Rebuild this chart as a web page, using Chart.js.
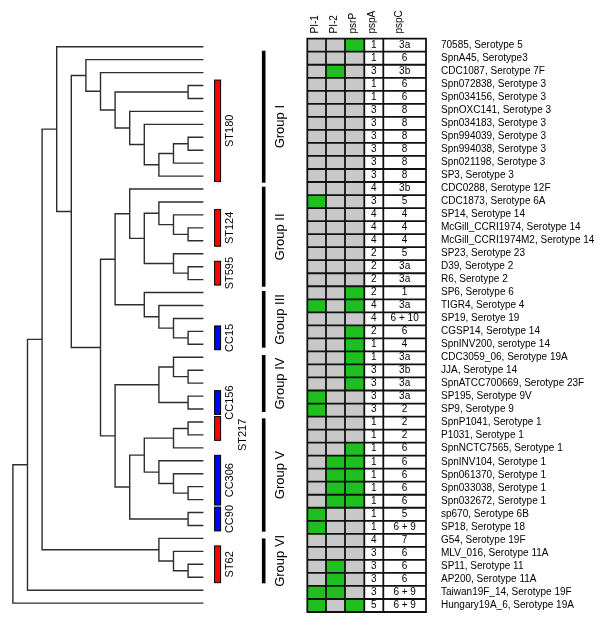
<!DOCTYPE html>
<html><head><meta charset="utf-8">
<script src="https://cdn.jsdelivr.net/npm/chart.js@4.4.1/dist/chart.umd.min.js"></script>
<style>html,body{margin:0;padding:0;background:#fff}#wrap{width:600px;height:626px;position:relative}</style>
</head><body><div id="wrap"><canvas id="c"></canvas></div>
<script>
// ---------------- DATA ----------------
const strains = ["70585, Serotype 5","SpnA45, Serotype3","CDC1087, Serotype 7F","Spn072838, Serotype 3","Spn034156, Serotype 3","SpnOXC141, Serotype 3","Spn034183, Serotype 3","Spn994039, Serotype 3","Spn994038, Serotype 3","Spn021198, Serotype 3","SP3, Serotype 3","CDC0288, Serotype 12F","CDC1873, Serotype 6A","SP14, Serotype 14","McGill_CCRI1974, Serotype 14","McGill_CCRI1974M2, Serotype 14","SP23, Serotype 23","D39, Serotype 2","R6, Serotype 2","SP6, Serotype 6","TIGR4, Serotype 4","SP19, Serotye 19","CGSP14, Serotype 14","SpnINV200, serotype 14","CDC3059_06, Serotype 19A","JJA, Serotype 14","SpnATCC700669, Serotype 23F","SP195, Serotype 9V","SP9, Serotype 9","SpnP1041, Serotype 1","P1031, Serotype 1","SpnNCTC7565, Serotype 1","SpnINV104, Serotype 1","Spn061370, Serotype 1","Spn033038, Serotype 1","Spn032672, Serotype 1","sp670, Serotype 6B","SP18, Serotype 18","G54, Serotype 19F","MLV_016, Serotype 11A","SP11, Serotype 11","AP200, Serotype 11A","Taiwan19F_14, Serotype 19F","Hungary19A_6, Serotype 19A"];
const columnLabels = ["PI-1","PI-2","psrP","pspA","pspC"];
const pi1  = [0,0,0,0,0,0,0,0,0,0, 0,0,1,0,0,0,0,0,0,0, 1,0,0,0,0,0,0,1,1,0, 0,0,0,0,0,0,1,1,0,0, 0,0,1,1];
const pi2  = [0,0,1,0,0,0,0,0,0,0, 0,0,0,0,0,0,0,0,0,0, 0,0,0,0,0,0,0,0,0,0, 0,0,1,1,1,1,0,0,0,0, 1,1,1,0];
const psrP = [1,0,0,0,0,0,0,0,0,0, 0,0,0,0,0,0,0,0,0,1, 1,0,1,1,1,1,1,0,0,0, 0,1,1,1,1,1,0,0,0,0, 0,0,0,1];
const pspA = [1,1,3,1,1,3,3,3,3,3, 3,4,3,4,4,4,2,2,2,2, 4,4,2,1,1,3,3,3,3,1, 1,1,1,1,1,1,1,1,4,3, 3,3,3,5];
const pspC = ["3a","6","3b","6","6","8","8","8","8","8", "8","3b","5","4","4","4","5","3a","3a","1", "3a","6 + 10","6","4","3a","3b","3a","3a","2","2", "2","6","6","6","6","6","5","6 + 9","7","6", "6","6","6 + 9","6 + 9"];
// dendrogram: [level, left, right]; integers are leaf (row) indices
const tree = [13,
  [12,
    [11,
      [10, 0,
        [9,
          [8, 1, [7, 2, [6, [1,3,4], [5, 5, [4, 6, [3, [2, [1,7,8], 9], 10]]]]]],
          [7,
            [6, [5, 11, [4, [3, 12, [2, 13, [1,14,15]]], [2, 16, [1,17,18]]]], [4, 19, [3, 20, [2, 21, [1,22,23]]]]],
            [6, [3, [2, 24, [1,25,26]], [1,27,28]], [5, [4, [2, [1,29,30], 31], [3, 32, [2, 33, [1,34,35]]]], [1,36,37]]]
          ]
        ]
      ],
      [3, 38, [2, 39, [1,40,41]]]
    ],
    42],
  43];
// clonal complexes: [label, first row, last row, kind]
const clonalNames = ["ST180","ST124","ST595","CC15","CC156","ST217","CC306","CC90","ST62"];
const clonalFirst = [3,13,17,22,27,29,32,36,39];
const clonalLast  = [10,15,18,23,28,30,35,37,41];
const clonalKind  = ["ST","ST","ST","CC","CC","ST","CC","CC","ST"];
// groups: extent in row units, label anchor in row units
const groupNames = ["Group I","Group II","Group III","Group IV","Group V","Group VI"];
const groupFrom  = [0.31,10.82,18.88,23.83,28.72,38.0];
const groupTo    = [10.51,18.55,23.26,28.23,37.48,41.47];
const groupLabelAt = [6.18,14.7,21.07,26.03,33.1,39.73];

// ---------------- LAYOUT ----------------
const W = 600, H = 626;
const tipX = 202.7, levelStep = 14.6;
const treeY0 = 46.7, treeStep = 12.94;
const tabY0 = 45.2, tabStep = 13.03;
const colEdges = [307.3, 326, 345, 364.3, 383.3, 426];
const headerX = [315.6, 334.2, 353.3, 372.2, 399.6];
const nameX = 441;
const FONT = '"Liberation Sans", Arial, Helvetica, sans-serif';
const GREEN = '#1fbf1f', GREY = '#c8c8c8';

// build dendrogram polylines (level, row) with gaps
const treePts = [];
function walk(n) {
  if (typeof n === 'number') return {lv: 0, y: n};
  const [lv, a, b] = n;
  const A = walk(a), B = walk(b);
  treePts.push({x: A.lv, y: A.y}, {x: lv, y: A.y}, {x: lv, y: B.y}, {x: B.lv, y: B.y}, {x: null, y: null});
  return {lv, y: (A.y + B.y) / 2};
}
walk(tree);

const overlay = {
  id: 'overlay',
  afterDraw(chart) {
    const ctx = chart.ctx;
    const X = chart.scales.x, Y = chart.scales.y, YT = chart.scales.yt;
    const px = v => X.getPixelForValue(v);
    ctx.save();
    // table cells
    const flags = [pi1, pi2, psrP];
    const x0 = px(colEdges[0]), x5 = px(colEdges[5]);
    for (let i = 0; i < strains.length; i++) {
      const t = Y.getPixelForValue(i - 0.5), b = Y.getPixelForValue(i + 0.5);
      for (let c = 0; c < 5; c++) {
        ctx.fillStyle = c < 3 ? (flags[c][i] ? GREEN : GREY) : '#ffffff';
        ctx.fillRect(px(colEdges[c]), t, px(colEdges[c + 1]) - px(colEdges[c]), b - t);
      }
    }
    ctx.strokeStyle = '#111';
    ctx.lineWidth = 1.8;
    ctx.beginPath();
    for (let i = 0; i <= strains.length; i++) {
      const yy = Y.getPixelForValue(i - 0.5);
      ctx.moveTo(x0 - 0.9, yy); ctx.lineTo(x5 + 0.9, yy);
    }
    const tTop = Y.getPixelForValue(-0.5), tBot = Y.getPixelForValue(strains.length - 0.5);
    for (const e of colEdges) { ctx.moveTo(px(e), tTop); ctx.lineTo(px(e), tBot); }
    ctx.stroke();
    // table text
    ctx.fillStyle = '#000';
    ctx.font = '10px ' + FONT;
    ctx.textBaseline = 'middle';
    for (let i = 0; i < strains.length; i++) {
      const yc = Y.getPixelForValue(i) - 0.4;
      ctx.textAlign = 'center';
      ctx.fillText(String(pspA[i]), (px(colEdges[3]) + px(colEdges[4])) / 2, yc);
      ctx.fillText(pspC[i], (px(colEdges[4]) + px(colEdges[5])) / 2, yc);
      ctx.textAlign = 'left';
      ctx.fillText(strains[i], px(nameX), yc);
    }
    // headers
    for (let c = 0; c < 5; c++) {
      ctx.save();
      ctx.translate(px(headerX[c]), 33.5);
      ctx.rotate(-Math.PI / 2);
      ctx.textAlign = 'left'; ctx.textBaseline = 'middle';
      ctx.fillText(columnLabels[c], 0, 0);
      ctx.restore();
    }
    // clonal bars
    const barL = px(214.6), barR = px(220.6);
    let prevEnd = -1e9;
    ctx.font = '11px ' + FONT;
    for (let k = 0; k < clonalNames.length; k++) {
      const t = YT.getPixelForValue(clonalFirst[k] - 0.42), b = YT.getPixelForValue(clonalLast[k] + 0.42);
      ctx.fillStyle = clonalKind[k] === 'ST' ? '#ff0000' : '#0000ff';
      ctx.fillRect(barL, t, barR - barL, b - t);
      ctx.strokeStyle = '#000'; ctx.lineWidth = 1;
      ctx.strokeRect(barL, t, barR - barL, b - t);
      const w = ctx.measureText(clonalNames[k]).width;
      let cy = (t + b) / 2, cx = px(230.2);
      if (cy - w / 2 < prevEnd + 2) { cx = px(243.2); cy = Math.max(cy, prevEnd + 2 + w / 2 - 3); }
      else prevEnd = cy + w / 2;
      ctx.save();
      ctx.translate(cx, cy); ctx.rotate(-Math.PI / 2);
      ctx.fillStyle = '#000'; ctx.textAlign = 'center'; ctx.textBaseline = 'middle';
      ctx.fillText(clonalNames[k], 0, 0);
      ctx.restore();
    }
    // group bars
    ctx.strokeStyle = '#000'; ctx.lineWidth = 3.6; ctx.lineCap = 'butt';
    ctx.font = '13px ' + FONT;
    for (let g = 0; g < groupNames.length; g++) {
      ctx.beginPath();
      ctx.moveTo(px(263.7), YT.getPixelForValue(groupFrom[g]));
      ctx.lineTo(px(263.7), YT.getPixelForValue(groupTo[g]));
      ctx.stroke();
      ctx.save();
      ctx.translate(px(280), YT.getPixelForValue(groupLabelAt[g]));
      ctx.rotate(-Math.PI / 2);
      ctx.fillStyle = '#000'; ctx.textAlign = 'center'; ctx.textBaseline = 'middle';
      ctx.fillText(groupNames[g], 0, 0);
      ctx.restore();
    }
    ctx.restore();
  }
};

const yMin = -tabY0 / tabStep, ytMin = -treeY0 / treeStep;
new Chart(document.getElementById('c'), {
  type: 'line',
  data: {
    datasets: [{
      data: treePts, xAxisID: 'xt', yAxisID: 'yt',
      borderColor: '#2e2e2e', borderWidth: 1.4, pointRadius: 0, fill: false,
      tension: 0, spanGaps: false, borderCapStyle: 'square'
    }]
  },
  options: {
    responsive: true, maintainAspectRatio: false, animation: false, events: [],
    layout: {padding: 0},
    plugins: {legend: {display: false}, tooltip: {enabled: false}},
    scales: {
      x:  {type: 'linear', display: false, min: 0, max: W},
      y:  {type: 'linear', display: false, reverse: true, min: yMin, max: yMin + H / tabStep},
      xt: {type: 'linear', display: false, reverse: true, max: tipX / levelStep, min: tipX / levelStep - W / levelStep},
      yt: {type: 'linear', display: false, reverse: true, min: ytMin, max: ytMin + H / treeStep}
    }
  },
  plugins: [overlay]
});
</script>
</body></html>
